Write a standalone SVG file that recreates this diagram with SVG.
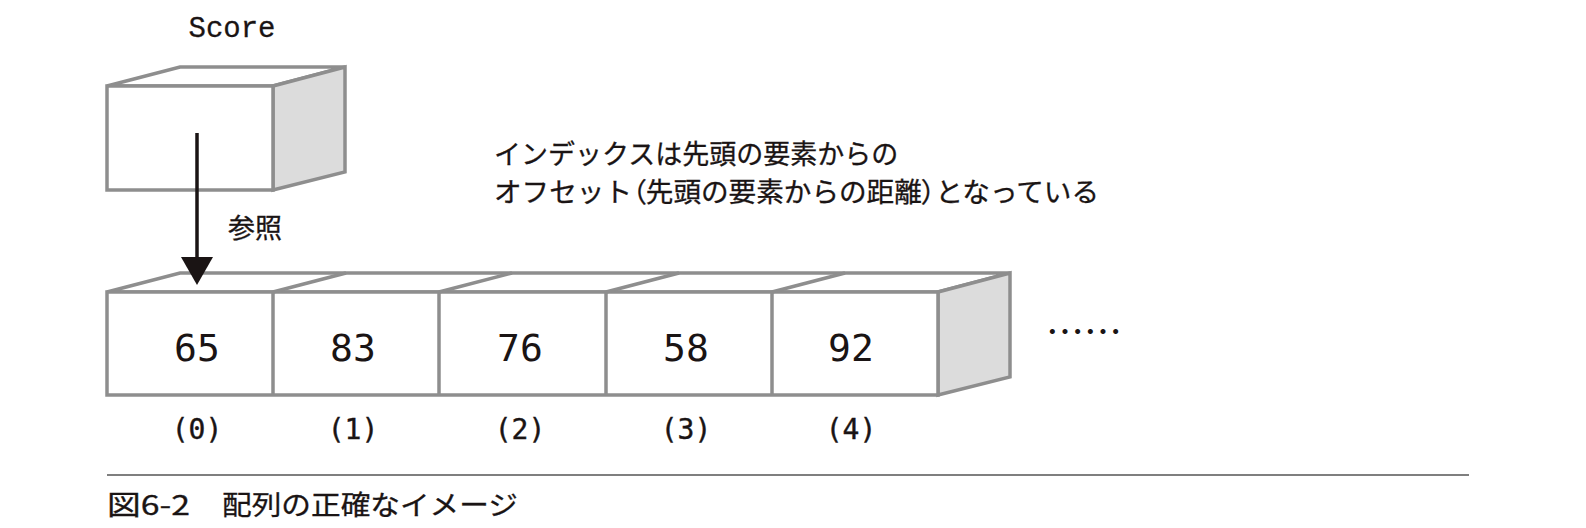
<svg xmlns="http://www.w3.org/2000/svg" width="1586" height="528" viewBox="0 0 1586 528">
<defs>
<style>
.edge{fill:#fff;stroke:#8e8e8e;stroke-width:3.5;stroke-linejoin:miter}
.side{fill:#dcdcdc;stroke:#8e8e8e;stroke-width:3.5}
.num{font-family:"DejaVu Sans Mono",monospace;font-size:38px;fill:#1a1414;text-anchor:middle}
.idx{font-family:"DejaVu Sans Mono",monospace;font-size:28px;fill:#1a1414;text-anchor:middle;stroke:#1a1414;stroke-width:0.4}
.jp{font-family:"Noto Sans CJK JP",sans-serif;font-size:27px;font-weight:400;fill:#1a1414;stroke:#1a1414;stroke-width:0.3}
.p{font-feature-settings:"palt"}
</style>
</defs>
<rect width="1586" height="528" fill="#fff"/>

<g id="score">
<text x="232" y="37" font-family="Liberation Mono,monospace" font-size="29" fill="#1a1414" text-anchor="middle" stroke="#1a1414" stroke-width="0.3">Score</text>
<polygon class="edge" points="107,86 180,67 345,67 273,86"/>
<polygon class="side" points="273,86 345,67 345,172 273,190"/>
<rect class="edge" x="107" y="86" width="166" height="104"/>
</g>

<g id="array">
<polygon class="edge" points="107,292 180,273 1010,273 938,292"/>
<polygon class="side" points="938,292 1010,273 1010,377 938,395"/>
<rect class="edge" x="107" y="292" width="831" height="103"/>
<line class="edge" x1="273" y1="292" x2="346" y2="273"/>
<line class="edge" x1="439" y1="292" x2="512" y2="273"/>
<line class="edge" x1="606" y1="292" x2="679" y2="273"/>
<line class="edge" x1="772" y1="292" x2="845" y2="273"/>
<line class="edge" x1="273" y1="292" x2="273" y2="395"/>
<line class="edge" x1="439" y1="292" x2="439" y2="395"/>
<line class="edge" x1="606" y1="292" x2="606" y2="395"/>
<line class="edge" x1="772" y1="292" x2="772" y2="395"/>
</g>

<g id="cell0"><text class="num" x="197" y="361">65</text><text class="idx" x="197" y="439">(0)</text></g>
<g id="cell1"><text class="num" x="353" y="361">83</text><text class="idx" x="353" y="439">(1)</text></g>
<g id="cell2"><text class="num" x="520" y="361">76</text><text class="idx" x="520" y="439">(2)</text></g>
<g id="cell3"><text class="num" x="686" y="361">58</text><text class="idx" x="686" y="439">(3)</text></g>
<g id="cell4"><text class="num" x="851" y="361">92</text><text class="idx" x="851" y="439">(4)</text></g>

<g id="connectors">
<line x1="197" y1="133" x2="197" y2="260" stroke="#1a1414" stroke-width="3.5"/>
<polygon points="181,257 213,257 197,285" fill="#1a1414"/>
<text class="jp" x="228" y="238">参照</text>
</g>

<g id="note">
<text class="jp" x="494" y="164">インデックスは先頭の要素からの</text>
<text class="jp" x="494" y="202" textLength="605" lengthAdjust="spacingAndGlyphs">オフセット<tspan class="p">（</tspan>先頭の要素からの距離<tspan class="p">）</tspan>となっている</text>
</g>

<text id="more" x="1046" y="346" font-family="Noto Sans CJK JP,sans-serif" font-size="38" fill="#1a1414">……</text>

<line x1="107" y1="475" x2="1469" y2="475" stroke="#555" stroke-width="1.6"/>
<text class="jp" x="107" y="515" font-size="29" textLength="83" lengthAdjust="spacingAndGlyphs">図6-2</text>
<text class="jp" x="222" y="515" font-size="29" textLength="296" lengthAdjust="spacingAndGlyphs">配列の正確なイメージ</text>
</svg>
